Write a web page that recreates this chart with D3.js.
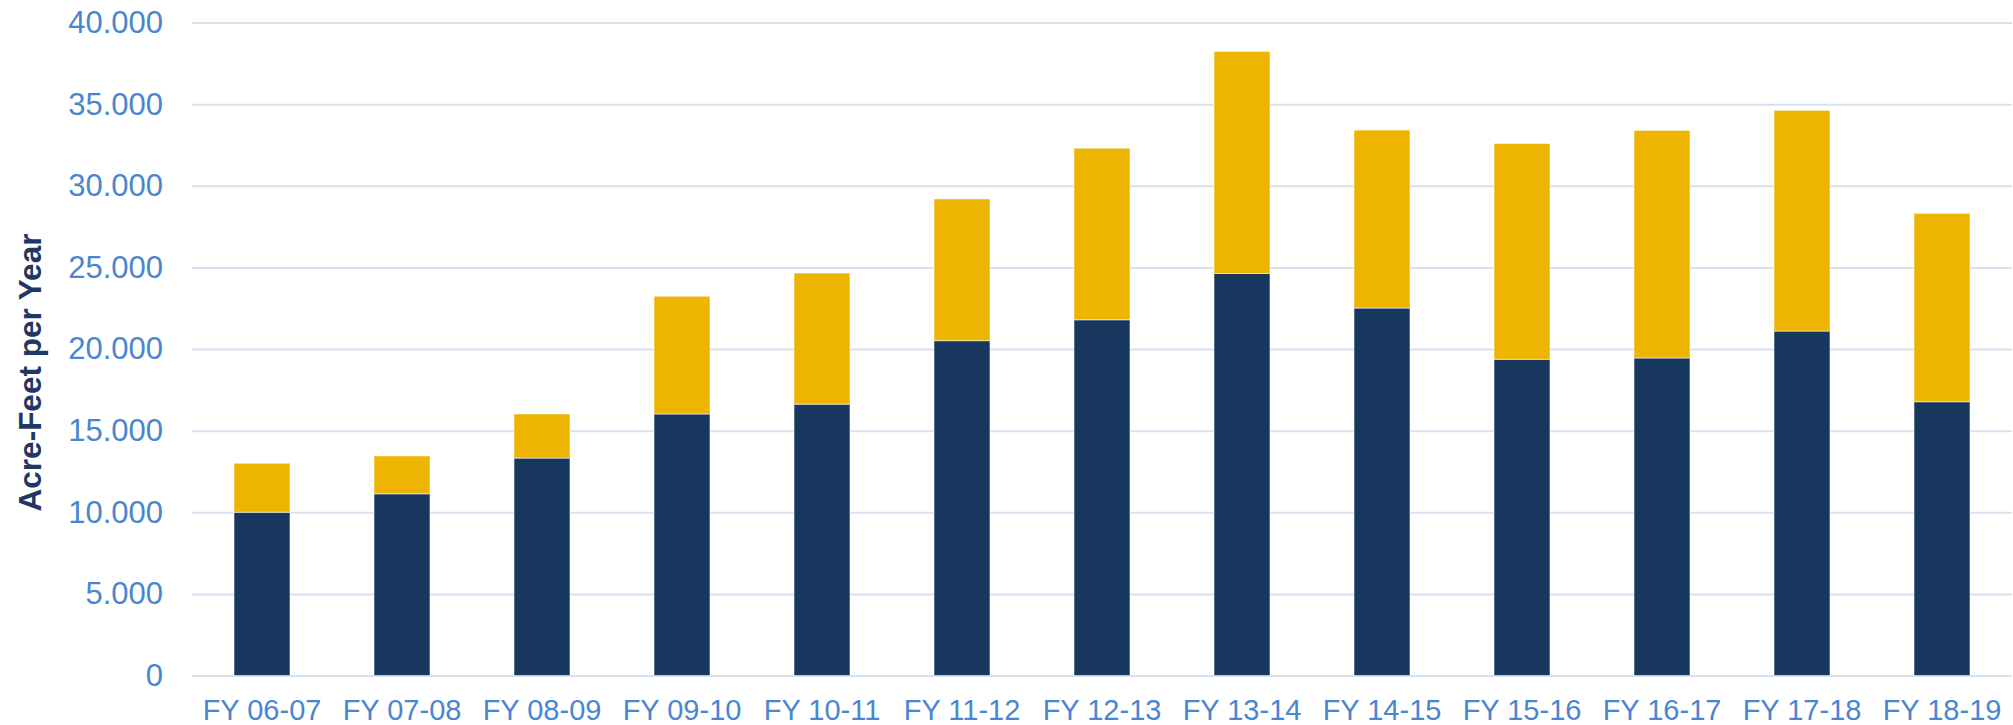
<!DOCTYPE html>
<html>
<head>
<meta charset="utf-8">
<script src="https://cdn.jsdelivr.net/npm/d3@7"></script>
<style>
  html, body { margin: 0; padding: 0; background: #fff; }
  svg { display: block; font-family: "Liberation Sans", Arial, sans-serif; }
</style>
</head>
<body>
<div id="chart"></div>
<script>
// data
const years = ["FY 06-07", "FY 07-08", "FY 08-09", "FY 09-10", "FY 10-11", "FY 11-12", "FY 12-13",
  "FY 13-14", "FY 14-15", "FY 15-16", "FY 16-17", "FY 17-18", "FY 18-19"];
const lowerSeries = [10000, 11130, 13320, 16020, 16620, 20510, 21790, 24630, 22510, 19370, 19450, 21100, 16770];
const upperSeries = [3000, 2320, 2700, 7210, 8030, 8680, 10510, 13600, 10900, 13220, 13940, 13520, 11540];
const yTicks = [0, 5000, 10000, 15000, 20000, 25000, 30000, 35000, 40000];
const yTitle = "Acre-Feet per Year";

// layout
const W = 2013, H = 725;
const margin = { top: 22.5, right: 1, bottom: 49.5, left: 192 };
const colors = { lower: "#17375e", upper: "#edb500", grid: "#d6e2f2", tick: "#4a86cf", title: "#1f3864" };

const rows = years.map((y, i) => ({ year: y, lower: lowerSeries[i], upper: upperSeries[i] }));
const stacked = d3.stack().keys(["lower", "upper"])(rows);

const svg = d3.select("#chart").append("svg")
  .attr("width", W)
  .attr("height", H);

const x = d3.scaleBand()
  .domain(years)
  .range([margin.left, W - margin.right])
  .paddingInner(0.6)
  .paddingOuter(0.3);

const y = d3.scaleLinear()
  .domain([0, 40000])
  .range([H - margin.bottom, margin.top]);

// dots as thousands separator
const fmt = d3.formatLocale({ decimal: ",", thousands: ".", grouping: [3], currency: ["", ""] }).format(",");

// grid + y labels
svg.append("g")
  .attr("transform", `translate(${margin.left},0)`)
  .call(d3.axisLeft(y).tickValues(yTicks).tickFormat(fmt)
    .tickSize(-(W - margin.left - margin.right)).tickPadding(29))
  .call(g => g.select(".domain").remove())
  .call(g => g.selectAll(".tick line").attr("stroke", colors.grid).attr("stroke-width", 2))
  .call(g => g.selectAll(".tick text")
    .attr("fill", colors.tick)
    .style("font-size", "31px"));

// bars
svg.append("g")
  .selectAll("g")
  .data(stacked)
  .join("g")
  .attr("fill", d => colors[d.key])
  .selectAll("rect")
  .data(d => d)
  .join("rect")
  .attr("x", d => x(d.data.year))
  .attr("width", x.bandwidth())
  .attr("y", d => y(d[1]))
  .attr("height", d => y(d[0]) - y(d[1]))
  .attr("stroke", "#ffffff")
  .attr("stroke-opacity", 0.55)
  .attr("stroke-width", 1);

// x labels
svg.append("g")
  .attr("transform", `translate(0,${H - margin.bottom})`)
  .call(d3.axisBottom(x).tickSize(0))
  .call(g => g.select(".domain").remove())
  .call(g => g.selectAll(".tick text")
    .attr("fill", colors.tick)
    .attr("y", 44.5)
    .attr("dy", 0)
    .style("font-size", "29px"));

// axis title
svg.append("text")
  .attr("transform", `translate(41,${(margin.top + H - margin.bottom) / 2 + 23.5}) rotate(-90)`)
  .attr("text-anchor", "middle")
  .attr("fill", colors.title)
  .style("font-size", "31.5px")
  .style("font-weight", "bold")
  .text(yTitle);
</script>
</body>
</html>
